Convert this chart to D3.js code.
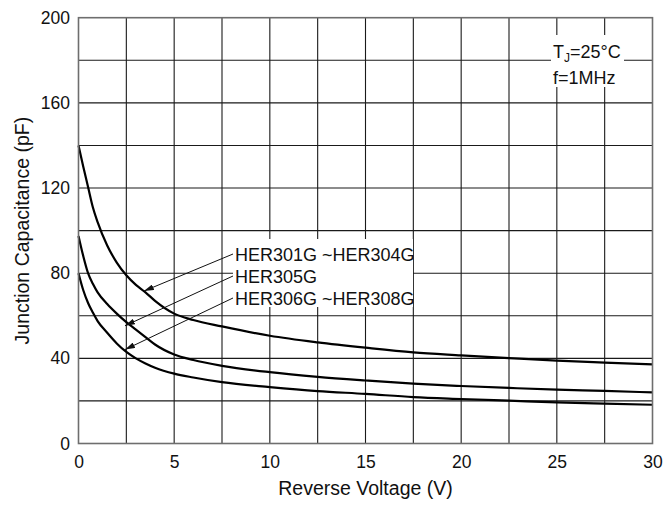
<!DOCTYPE html>
<html>
<head>
<meta charset="utf-8">
<script src="https://cdn.jsdelivr.net/npm/d3@7"></script>
<style>
  body { margin: 0; background: #fff; }
  text { font-family: "Liberation Sans", Arial, sans-serif; fill: #111; }
</style>
</head>
<body>
<div id="chart"></div>
<script>
// reverse voltage (V), shared by all three curves
var voltage = [0, 0.25, 0.5, 0.75, 1, 1.5, 2, 2.5, 3, 3.5, 4, 5, 6, 7.5, 10, 12.5, 15, 17.5, 20, 22.5, 25, 27.5, 30];

// junction capacitance (pF)
var her301_304 = [140, 130, 120.5, 111, 104, 93, 85, 79, 74.5, 71, 67, 61, 58, 55, 50.6, 47.5, 45, 42.8, 41.4, 40.1, 38.9, 38, 37.2];
var her305     = [97.5, 88, 80, 75, 71, 65.5, 61, 57, 53.5, 50, 46.5, 41.8, 39.2, 36.5, 33.5, 31.3, 29.6, 28.1, 27, 26.1, 25.3, 24.7, 24];
var her306_308 = [80, 72, 66, 61.5, 57.5, 52, 47, 43, 40, 37.6, 35.6, 32.8, 31, 28.8, 26.5, 24.6, 23.3, 21.8, 20.9, 20.1, 19.3, 18.7, 18.2];

var seriesNames = ["HER301G ~HER304G", "HER305G", "HER306G ~HER308G"];
// where each label arrow points, [V, pF]
var arrowTips = [[3.42, 71.6], [2.43, 55.3], [2.43, 44.1]];

var xTicks = [0, 5, 10, 15, 20, 25, 30];
var yTicks = [0, 40, 80, 120, 160, 200];

var W = 665, H = 509;
var m = { top: 17.7, right: 12.5, bottom: 65.5, left: 78.5 },
  w = W - m.left - m.right,
  h = H - m.top - m.bottom;

var x = d3.scaleLinear().domain([0, 30]).range([0, w]);
var y = d3.scaleLinear().domain([0, 200]).range([h, 0]);

var svg = d3.select("#chart").append("svg")
  .attr("width", W)
  .attr("height", H);

var defs = svg.append("defs");
defs.append("marker")
  .attr("id", "head")
  .attr("viewBox", "0 0 10 6")
  .attr("refX", 10)
  .attr("refY", 3)
  .attr("markerWidth", 10)
  .attr("markerHeight", 6)
  .attr("markerUnits", "userSpaceOnUse")
  .attr("orient", "auto")
  .append("path")
  .attr("d", "M0,0 L10,3 L0,6 Z")
  .attr("fill", "#111");

var g = svg.append("g")
  .attr("transform", "translate(" + m.left + "," + m.top + ")");

// grid: every 2.5 V and every 20 pF
g.append("g").selectAll("line")
  .data(d3.range(2.5, 30, 2.5))
  .enter().append("line")
  .attr("x1", function(d) { return x(d); })
  .attr("x2", function(d) { return x(d); })
  .attr("y1", 0)
  .attr("y2", h)
  .attr("stroke", "#1a1a1a")
  .attr("stroke-width", 1.1);

g.append("g").selectAll("line")
  .data(d3.range(20, 200, 20))
  .enter().append("line")
  .attr("x1", 0)
  .attr("x2", w)
  .attr("y1", function(d) { return y(d); })
  .attr("y2", function(d) { return y(d); })
  .attr("stroke", "#1a1a1a")
  .attr("stroke-width", 1.1);

// axes, labels only
var xAxis = g.append("g")
  .attr("transform", "translate(0," + h + ")")
  .call(d3.axisBottom(x).tickValues(xTicks).tickSize(0).tickPadding(12.5));
var yAxis = g.append("g")
  .call(d3.axisLeft(y).tickValues(yTicks).tickSize(0).tickPadding(8.5));

[xAxis, yAxis].forEach(function(a) {
  a.select(".domain").remove();
  a.selectAll("text")
    .style("font-family", "'Liberation Sans', Arial, sans-serif")
    .style("font-size", "17.5px")
    .attr("fill", "#111");
});

// curves
var line = d3.line()
  .x(function(d) { return x(d[0]); })
  .y(function(d) { return y(d[1]); })
  .curve(d3.curveMonotoneX);

[her301_304, her305, her306_308].forEach(function(vals) {
  g.append("path")
    .datum(voltage.map(function(v, i) { return [v, vals[i]]; }))
    .attr("fill", "none")
    .attr("stroke", "#000")
    .attr("stroke-width", 2.2)
    .attr("d", line);
});

// plot frame
g.append("rect")
  .attr("width", w)
  .attr("height", h)
  .attr("fill", "none")
  .attr("stroke", "#6e6e6e")
  .attr("stroke-width", 1.6);

// series labels with white backing and arrows
var labX = 235 - m.left,
  labBase = [261, 283, 305];

g.append("rect")
  .attr("x", 233 - m.left)
  .attr("y", 239 - m.top)
  .attr("width", 180)
  .attr("height", 68)
  .attr("fill", "#fff");

seriesNames.forEach(function(name, i) {
  g.append("line")
    .attr("x1", labX - 2)
    .attr("y1", labBase[i] - m.top - 7)
    .attr("x2", x(arrowTips[i][0]))
    .attr("y2", y(arrowTips[i][1]))
    .attr("stroke", "#111")
    .attr("stroke-width", 1)
    .attr("marker-end", "url(#head)");

  g.append("text")
    .attr("x", labX)
    .attr("y", labBase[i] - m.top)
    .style("font-size", "18px")
    .text(name);
});

// conditions, top right
svg.append("rect")
  .attr("x", 551)
  .attr("y", 35)
  .attr("width", 73)
  .attr("height", 52)
  .attr("fill", "#fff");

var tj = svg.append("text")
  .attr("x", 553)
  .attr("y", 57.5)
  .style("font-size", "18px");
tj.append("tspan").text("T");
tj.append("tspan").attr("dy", 4.5).style("font-size", "12px").text("J");
tj.append("tspan").attr("dy", -4.5).text("=25°C");

svg.append("text")
  .attr("x", 553)
  .attr("y", 83.5)
  .style("font-size", "18px")
  .text("f=1MHz");

// axis titles
svg.append("text")
  .attr("x", m.left + w / 2)
  .attr("y", 495)
  .attr("text-anchor", "middle")
  .style("font-size", "19.5px")
  .text("Reverse Voltage (V)");

svg.append("text")
  .attr("transform", "translate(28.5," + (m.top + h / 2) + ") rotate(-90)")
  .attr("text-anchor", "middle")
  .style("font-size", "19.5px")
  .text("Junction Capacitance (pF)");
</script>
</body>
</html>
